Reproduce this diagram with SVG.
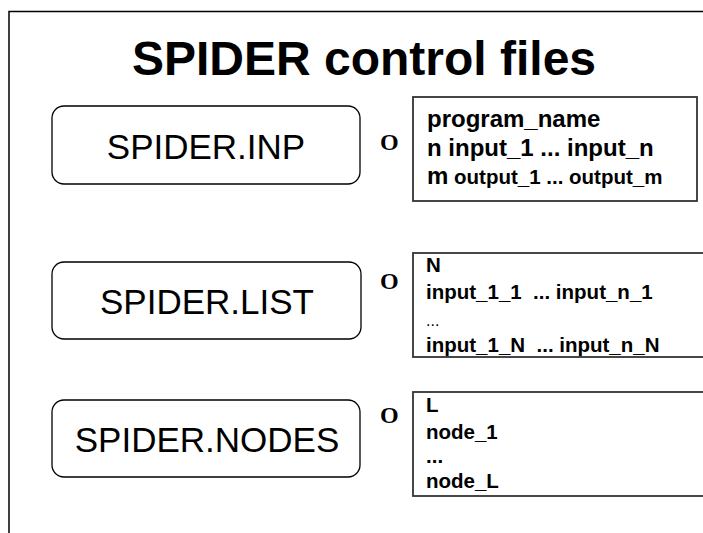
<svg xmlns="http://www.w3.org/2000/svg" width="703" height="533" viewBox="0 0 703 533">
<style>
.frame{fill:none;stroke:#000;stroke-width:1.5}
.file{fill:#fff;stroke:#000;stroke-width:1.3}
.content{fill:#fff;stroke:#333;stroke-width:1.8}
.title{font-family:"Liberation Sans",Arial,sans-serif;font-weight:bold;font-size:48px;fill:#000}
.fname{font-family:"Liberation Sans",Arial,sans-serif;font-size:35px;fill:#000}
.mark{font-family:"Liberation Serif","Times New Roman",serif;font-weight:bold;font-size:24px;fill:#000}
.big{font-family:"Liberation Sans",Arial,sans-serif;font-weight:bold;font-size:24px;fill:#000}
.med{font-family:"Liberation Sans",Arial,sans-serif;font-weight:bold;font-size:20.5px;fill:#000}
.sm{font-family:"Liberation Sans",Arial,sans-serif;font-size:16px;fill:#000}
</style>
<rect width="703" height="533" fill="#fff"/>
<path class="frame" d="M9,533 V11.5 H703"/>
<text class="title" x="364" y="75" text-anchor="middle">SPIDER control files</text>
<g id="connectors"></g>
<g id="spider-inp">
<rect class="file" x="52" y="106" width="308" height="78" rx="12"/>
<text class="fname" x="206" y="159" text-anchor="middle">SPIDER.INP</text>
<text class="mark" x="380" y="150">O</text>
<rect class="content" x="413" y="97" width="284" height="104"/>
<text class="big" x="427" y="127">program_name</text>
<text class="big" x="427" y="156">n input_1 ... input_n</text>
<text x="427" y="184"><tspan class="big">m</tspan><tspan class="med"> output_1 ... output_m</tspan></text>
</g>
<g id="spider-list">
<rect class="file" x="52" y="262" width="309" height="77" rx="12"/>
<text class="fname" x="207" y="314" text-anchor="middle">SPIDER.LIST</text>
<text class="mark" x="380" y="289">O</text>
<rect class="content" x="413" y="253" width="295" height="104"/>
<text class="med" x="426" y="272">N</text>
<text class="med" x="426" y="299" xml:space="preserve">input_1_1  ... input_n_1</text>
<text class="sm" x="426" y="326">...</text>
<text class="med" x="426" y="352" xml:space="preserve">input_1_N  ... input_n_N</text>
</g>
<g id="spider-nodes">
<rect class="file" x="52" y="400" width="308" height="77" rx="12"/>
<text class="fname" x="207" y="452" text-anchor="middle">SPIDER.NODES</text>
<text class="mark" x="380" y="423">O</text>
<rect class="content" x="413" y="392" width="295" height="104"/>
<text class="med" x="426" y="412">L</text>
<text class="med" x="426" y="439">node_1</text>
<text class="med" x="426" y="463">...</text>
<text class="med" x="426" y="488">node_L</text>
</g>
</svg>
